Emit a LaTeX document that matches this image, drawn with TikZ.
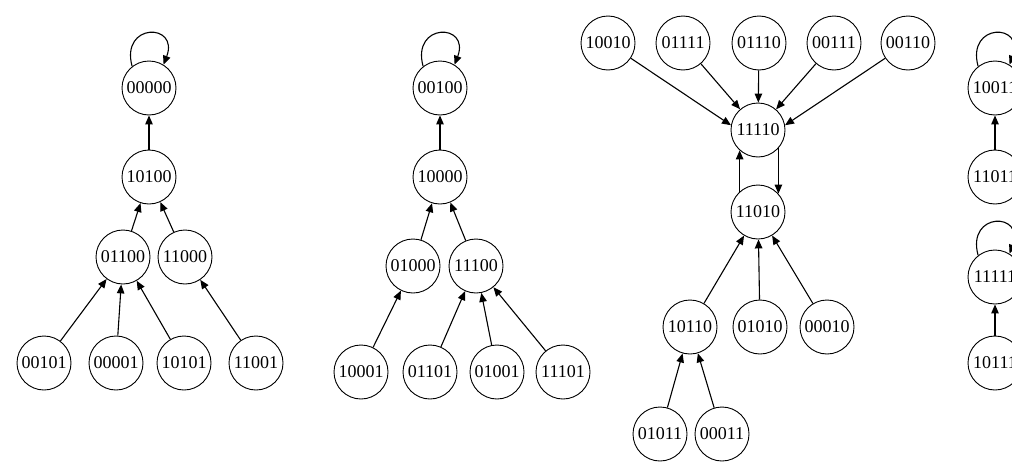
\documentclass[tikz,border=0pt]{standalone}
\usepackage{fontspec}
\setmainfont{Liberation Serif}
\usetikzlibrary{arrows.meta}
\begin{document}
\begin{tikzpicture}[x=1pt,y=-1pt,
  st/.style={circle,draw,line width=0.9pt,minimum size=54pt,inner sep=0pt,font=\fontsize{18}{20}\selectfont},
  arr/.style={-{Triangle[length=9pt,width=7.5pt]},line width=1.1pt},
  selfloop/.style={arr}]
\useasboundingbox (0,0) rectangle (1012,466);
\clip (0,0) rectangle (1012,466);
\fill[white] (0,0) rectangle (1012,466);
% tree 1
\node[st] (a0) at (149,88) {00000};
\node[st] (a1) at (149,177) {10100};
\node[st] (a2) at (123,257) {01100};
\node[st] (a3) at (185,257) {11000};
\node[st] (a4) at (44,363) {00101};
\node[st] (a5) at (116,363) {00001};
\node[st] (a6) at (184,363) {10101};
\node[st] (a7) at (256,363) {11001};
\draw[arr] (a1) -- (a0);
\draw[arr] (a2) -- (a1);
\draw[arr] (a3) -- (a1);
\draw[arr] (a4) -- (a2);
\draw[arr] (a5) -- (a2);
\draw[arr] (a6) -- (a2);
\draw[arr] (a7) -- (a3);
\draw[selfloop] (a0.128) .. controls +(-12,-44) and +(16,-42) .. (a0.58);
% tree 2
\node[st] (b0) at (440,88) {00100};
\node[st] (b1) at (440,177) {10000};
\node[st] (b2) at (413,266) {01000};
\node[st] (b3) at (476,266) {11100};
\node[st] (b4) at (361,372) {10001};
\node[st] (b5) at (430,372) {01101};
\node[st] (b6) at (497,372) {01001};
\node[st] (b7) at (563,372) {11101};
\draw[arr] (b1) -- (b0);
\draw[arr] (b2) -- (b1);
\draw[arr] (b3) -- (b1);
\draw[arr] (b4) -- (b2);
\draw[arr] (b5) -- (b3);
\draw[arr] (b6) -- (b3);
\draw[arr] (b7) -- (b3);
\draw[selfloop] (b0.128) .. controls +(-12,-44) and +(16,-42) .. (b0.58);
% tree 3
\node[st] (c1) at (608,43) {10010};
\node[st] (c2) at (683,43) {01111};
\node[st] (c3) at (759,43) {01110};
\node[st] (c4) at (834,43) {00111};
\node[st] (c5) at (908,43) {00110};
\node[st] (c6) at (758,130) {11110};
\node[st] (c7) at (758,212) {11010};
\node[st] (c8) at (690,327) {10110};
\node[st] (c9) at (760,327) {01010};
\node[st] (c10) at (827,327) {00010};
\node[st] (c11) at (660,434) {01011};
\node[st] (c12) at (722,434) {00011};
\draw[arr] (c1) -- (c6.170);
\draw[arr] (c2) -- (c6);
\draw[arr] (c3) -- (c6);
\draw[arr] (c4) -- (c6);
\draw[arr] (c5) -- (c6.10);
\draw[arr] (c7.132) -- (c6.228);
\draw[arr] (c6.318) -- (c7.42);
\draw[arr] (c8) -- (c7);
\draw[arr] (c9) -- (c7);
\draw[arr] (c10) -- (c7);
\draw[arr] (c11) -- (c8);
\draw[arr] (c12) -- (c8);
% tree 4
\node[st] (d0) at (995,88) {10011};
\node[st] (d1) at (995,177) {11011};
\node[st] (d2) at (995,277) {11111};
\node[st] (d3) at (995,363) {10111};
\draw[arr] (d1) -- (d0);
\draw[arr] (d3) -- (d2);
\draw[selfloop] (d0.128) .. controls +(-12,-44) and +(16,-42) .. (d0.58);
\draw[selfloop] (d2.128) .. controls +(-12,-44) and +(16,-42) .. (d2.58);
\end{tikzpicture}
\end{document}
